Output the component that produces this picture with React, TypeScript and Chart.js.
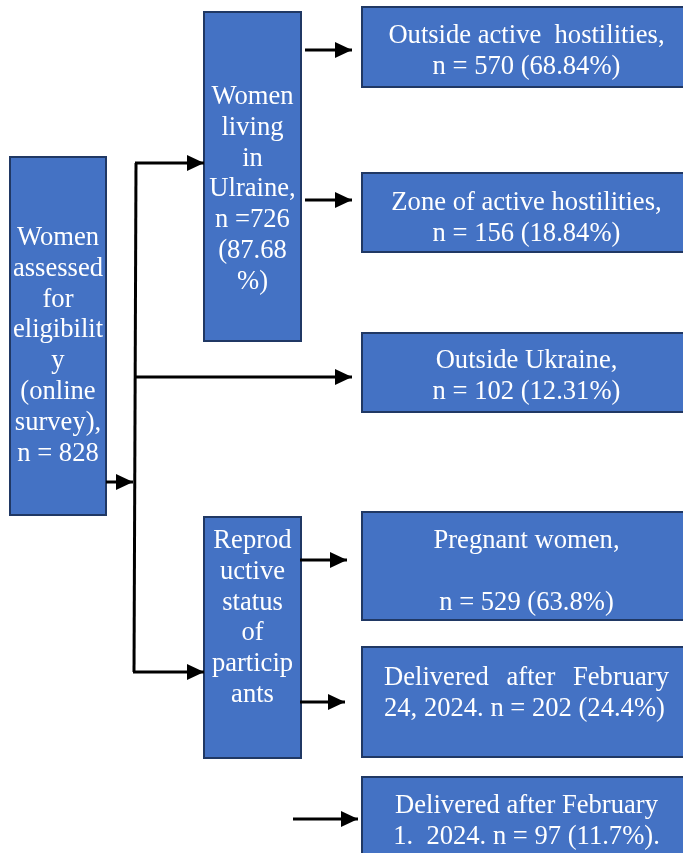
import React, { useEffect, useRef } from 'react';
import { Chart, registerables } from 'chart.js';

Chart.register(...registerables);

const W = 683;
const H = 853;

// ---- Node data (flowchart boxes) ----
const NODE_LABELS: string[][] = [
  ['Women', 'assessed', 'for', 'eligibilit', 'y', '(online', 'survey),', 'n = 828'],
  ['Women', 'living', 'in', 'Ulraine,', 'n =726', '(87.68', '%)'],
  ['Outside active  hostilities,', 'n = 570 (68.84%)'],
  ['Zone of active hostilities,', 'n = 156 (18.84%)'],
  ['Outside Ukraine,', 'n = 102 (12.31%)'],
  ['Reprod', 'uctive', 'status', 'of', 'particip', 'ants'],
  ['Pregnant women,', '', 'n = 529 (63.8%)'],
  ['Delivered after February', '24, 2024. n = 202 (24.4%)'],
  ['Delivered after February', '1.  2024. n = 97 (11.7%).'],
];
const NODE_X0 = [10, 204, 362, 362, 362, 204, 362, 362, 362];
const NODE_X1 = [106, 301, 691, 691, 691, 301, 691, 691, 691];
const NODE_Y0 = [157, 12, 7, 173, 333, 517, 512, 647, 777];
const NODE_Y1 = [515, 341, 87, 252, 412, 758, 620, 757, 870];
const NODE_FIRST_LINE = [237, 96, 35, 202, 360, 540, 540, 677, 805];
const NODE_ALIGN = ['center', 'center', 'center', 'center', 'center', 'center', 'center', 'justify', 'center'];

// ---- Connector data (polylines, arrowhead at last point) ----
const CONNECTORS: { pts: [number, number][]; arrow: boolean }[] = [
  { pts: [[106, 482], [133, 482]], arrow: true },
  { pts: [[136, 163], [134, 672]], arrow: false },
  { pts: [[135, 163], [204, 163]], arrow: true },
  { pts: [[134, 377], [352, 377]], arrow: true },
  { pts: [[133, 672], [204, 672]], arrow: true },
  { pts: [[305, 50], [352, 50]], arrow: true },
  { pts: [[305, 200], [352, 200]], arrow: true },
  { pts: [[300, 560], [347, 560]], arrow: true },
  { pts: [[300, 702], [345, 702]], arrow: true },
  { pts: [[293, 819], [358, 819]], arrow: true },
];

const LINE_H = 30.8;
const FONT = '26.6px "Liberation Serif", "Times New Roman", serif';
const FILL = '#4472C4';
const STROKE = '#203864';

const flowPlugin = {
  id: 'flow',
  beforeDatasetsDraw(chart: any) {
    const { ctx, scales } = chart;
    const x = scales.x, y = scales.y;
    ctx.save();
    for (let i = 0; i < NODE_LABELS.length; i++) {
      const px0 = x.getPixelForValue(NODE_X0[i]);
      const px1 = x.getPixelForValue(NODE_X1[i]);
      const py0 = y.getPixelForValue(NODE_Y0[i]);
      const py1 = y.getPixelForValue(NODE_Y1[i]);
      ctx.fillStyle = FILL;
      ctx.fillRect(px0, py0, px1 - px0, py1 - py0);
      ctx.strokeStyle = STROKE;
      ctx.lineWidth = 2;
      ctx.strokeRect(px0, py0, px1 - px0, py1 - py0);
    }
    ctx.restore();
  },
  afterDatasetsDraw(chart: any) {
    const { ctx, scales } = chart;
    const x = scales.x, y = scales.y;
    ctx.save();
    // arrowheads
    ctx.fillStyle = '#000';
    CONNECTORS.forEach((c) => {
      if (!c.arrow) return;
      const n = c.pts.length;
      const tx = x.getPixelForValue(c.pts[n - 1][0]);
      const ty = y.getPixelForValue(c.pts[n - 1][1]);
      const fx = x.getPixelForValue(c.pts[n - 2][0]);
      const fy = y.getPixelForValue(c.pts[n - 2][1]);
      const ang = Math.atan2(ty - fy, tx - fx);
      const L = 17, Wd = 8;
      ctx.beginPath();
      ctx.moveTo(tx, ty);
      ctx.lineTo(tx - L * Math.cos(ang) + Wd * Math.sin(ang), ty - L * Math.sin(ang) - Wd * Math.cos(ang));
      ctx.lineTo(tx - L * Math.cos(ang) - Wd * Math.sin(ang), ty - L * Math.sin(ang) + Wd * Math.cos(ang));
      ctx.closePath();
      ctx.fill();
    });
    // labels
    ctx.font = FONT;
    ctx.fillStyle = '#ffffff';
    ctx.textBaseline = 'middle';
    for (let i = 0; i < NODE_LABELS.length; i++) {
      const px0 = x.getPixelForValue(NODE_X0[i]);
      const px1 = x.getPixelForValue(NODE_X1[i]);
      const cx = (px0 + px1) / 2;
      NODE_LABELS[i].forEach((line, j) => {
        const py = y.getPixelForValue(NODE_FIRST_LINE[i] + j * LINE_H) + 1;
        if (NODE_ALIGN[i] === 'justify') {
          const left = px0 + 22;
          const right = px1 - 22;
          if (j === NODE_LABELS[i].length - 1) {
            ctx.textAlign = 'left';
            ctx.fillText(line, left, py);
          } else {
            const words = line.split(/\s+/);
            const widths = words.map((w) => ctx.measureText(w).width);
            const total = widths.reduce((a, b) => a + b, 0);
            const gap = words.length > 1 ? (right - left - total) / (words.length - 1) : 0;
            ctx.textAlign = 'left';
            let cur = left;
            words.forEach((w, k) => {
              ctx.fillText(w, cur, py);
              cur += widths[k] + gap;
            });
          }
        } else {
          ctx.textAlign = 'center';
          ctx.fillText(line, cx, py);
        }
      });
    }
    ctx.restore();
  },
};

export default function App() {
  const ref = useRef<HTMLCanvasElement | null>(null);
  useEffect(() => {
    if (!ref.current) return;
    const chart = new Chart(ref.current, {
      type: 'scatter',
      data: {
        datasets: CONNECTORS.map((c) => ({
          data: c.pts.map(([px, py]) => ({ x: px, y: py })),
          showLine: true,
          borderColor: '#000',
          borderWidth: 3,
          pointRadius: 0,
          pointHoverRadius: 0,
          fill: false,
          tension: 0,
          clip: false as any,
        })),
      },
      options: {
        responsive: false,
        maintainAspectRatio: false,
        animation: false,
        devicePixelRatio: 1,
        layout: { padding: 0 },
        events: [],
        plugins: { legend: { display: false }, tooltip: { enabled: false } },
        scales: {
          x: { type: 'linear', min: 0, max: W, display: false },
          y: { type: 'linear', min: 0, max: H, reverse: true, display: false },
        },
      },
      plugins: [flowPlugin],
    });
    return () => chart.destroy();
  }, []);
  return (
    <div style={{ position: 'absolute', left: 0, top: 0, width: W, height: H, background: '#fff' }}>
      <canvas ref={ref} width={W} height={H} style={{ display: 'block', width: W, height: H }} />
    </div>
  );
}
